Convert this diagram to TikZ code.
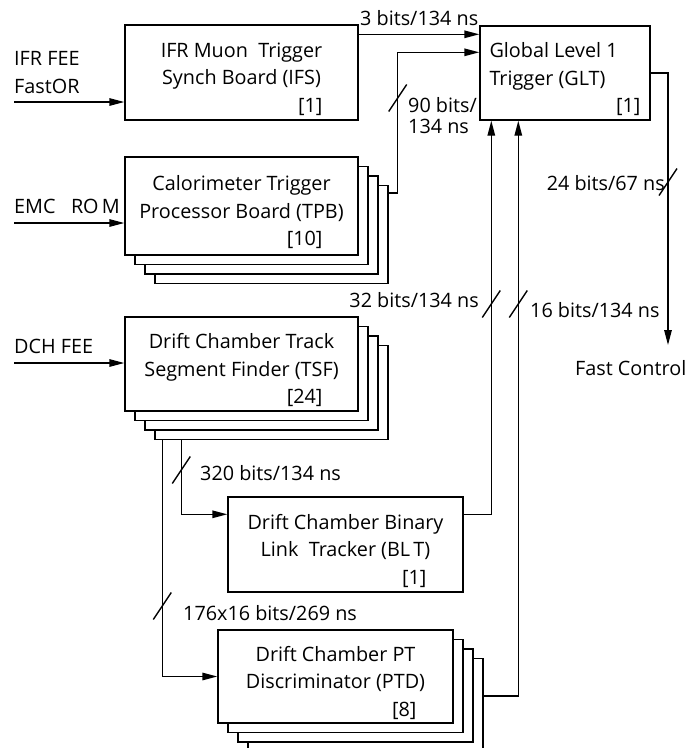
\documentclass[tikz,border=0pt]{standalone}
\usepackage{fontspec}
\setmainfont{Open Sans}
\usetikzlibrary{arrows.meta, calc}

\newcommand{\boardno}[1]{\makebox[162pt][r]{#1}}
\newcommand{\boardtop}{\rule{0pt}{28pt}}

\begin{document}
\begin{tikzpicture}[
  x=1pt, y=-1pt,
  board/.style={draw, fill=white, line width=1.4pt, align=center, minimum width=233pt, minimum height=95pt, inner sep=0pt, font=\fontsize{19.8}{27.5}\selectfont},
  arr/.style={-{Triangle[length=15pt, width=7.5pt]}, line width=1.4pt},
  lbl/.style={font=\fontsize{19.8}{17}\selectfont, inner sep=0pt, align=left},
  buswidth/.pic={\draw[line width=1.4pt] (-9,13.5) -- (9,-13.5);}
]
\useasboundingbox (0,0) rectangle (691,748);

% boards, stacked copies first
\node[board] (ifs) at (241.5,72.5) {\boardtop IFR Muon\ \ Trigger\\Synch Board (IFS)\\\boardno{[1]}};

\foreach \k in {3,2,1}
  \node[board, minimum height=98pt] (tpb\k) at ($(241.5,206)+\k*(10,9.5)$) {};
\node[board, minimum height=98pt] (tpb) at (241.5,206) {\boardtop Calorimeter Trigger\\Processor Board (TPB)\\\boardno{[10]}};

\foreach \k in {3,2,1}
  \node[board, minimum height=94pt] (tsf\k) at ($(241.5,364)+\k*(10,9.5)$) {};
\node[board, minimum height=94pt] (tsf) at (241.5,364) {\boardtop Drift Chamber Track\\Segment Finder (TSF)\\\boardno{[24]}};

\node[board, minimum width=235pt] (blt) at (345.5,544.5) {\boardtop Drift Chamber Binary\\Link\ \ Tracker (BL\,T)\\\boardno{[1]}};

\foreach \k in {3,2,1}
  \node[board, minimum width=235pt, minimum height=93pt] (ptd\k) at ($(335.5,676.5)+\k*(10,9.5)$) {};
\node[board, minimum width=235pt, minimum height=93pt] (ptd) at (335.5,676.5) {\boardtop Drift Chamber PT\\Discriminator (PTD)\\\boardno{[8]}};

\node[board, align=left, minimum width=170pt, minimum height=94pt] (glt) at (565,73) {\boardtop Global Level 1\\Trigger (GLT)\\\makebox[151pt][r]{[1]}};

% inputs
\node[lbl, anchor=base west] (ifrfee) at (14,65) {IFR FEE};
\node[lbl, anchor=base west] (fastor) at (14,93) {FastOR};
\node[lbl, anchor=base west] (emcrom) at (14,213) {EMC\ \ \ RO\,M};
\node[lbl, anchor=base west] (dchfee) at (14,353) {DCH FEE};
\coordinate (ifsin) at (14,102);
\coordinate (tpbin) at (14,223);
\coordinate (tsfin) at (14,363);
\draw[arr] (ifsin) -- (ifsin -| ifs.west);
\draw[arr] (tpbin) -- (tpbin -| tpb.west);
\draw[arr] (tsfin) -- (tsfin -| tsf.west);

% links to GLT
\coordinate (bltin) at ([xshift=12pt]glt.south west);
\coordinate (ptdin) at ([xshift=39pt]glt.south west);
\coordinate (fcin) at (668,345);

\draw[arr] ($(ifs.north east)+(0,10)$) coordinate (ifsout) -- (ifsout -| glt.west);
\draw[arr] ([yshift=-8pt]tpb3.north east) -- ++(9,0) coordinate (tpbup) |- ([yshift=-27pt]glt.north west);
\draw[arr] ([xshift=27pt]tsf3.south west) coordinate (tsfb) |- ([yshift=-18pt]blt.north west);
\draw[arr] ([xshift=8pt]tsf3.south west) coordinate (tsfa) |- (ptd.west);
\draw[arr] ([yshift=-18pt]blt.north east) -| (bltin);
\draw[arr] ([yshift=-38pt]ptd3.north east) -| (ptdin);
\draw[arr] (glt.east) -| (fcin);

% bus widths
\pic at (tpbup |- 0,98) {buswidth};
\pic at (tsfb |- 0,470) {buswidth};
\pic at (tsfa |- 0,606) {buswidth};
\pic at (bltin |- 0,304) {buswidth};
\pic at (ptdin |- 0,304) {buswidth};
\pic at (fcin |- 0,182) {buswidth};

\node[lbl, anchor=base west] (ifsrate) at (360,25) {3 bits/134 ns};
\node[lbl, anchor=base west] (tpbrate) at (408,112) {90 bits/};
\node[lbl, anchor=base west] (tpbrate2) at (408,133) {134 ns};
\node[lbl, anchor=base east] (bltrate) at (479,307) {32 bits/134 ns};
\node[lbl, anchor=base west] (ptdrate) at (530,317) {16 bits/134 ns};
\node[lbl, anchor=base west] (tsfbrate) at (200,480) {320 bits/134 ns};
\node[lbl, anchor=base west] (tsfarate) at (183,620) {176x16 bits/269 ns};
\node[lbl, anchor=base east] (gltrate) at (665,190) {24 bits/67 ns};
\node[lbl, anchor=base west] (fastctl) at (575,375) {Fast Control};
\end{tikzpicture}
\end{document}
